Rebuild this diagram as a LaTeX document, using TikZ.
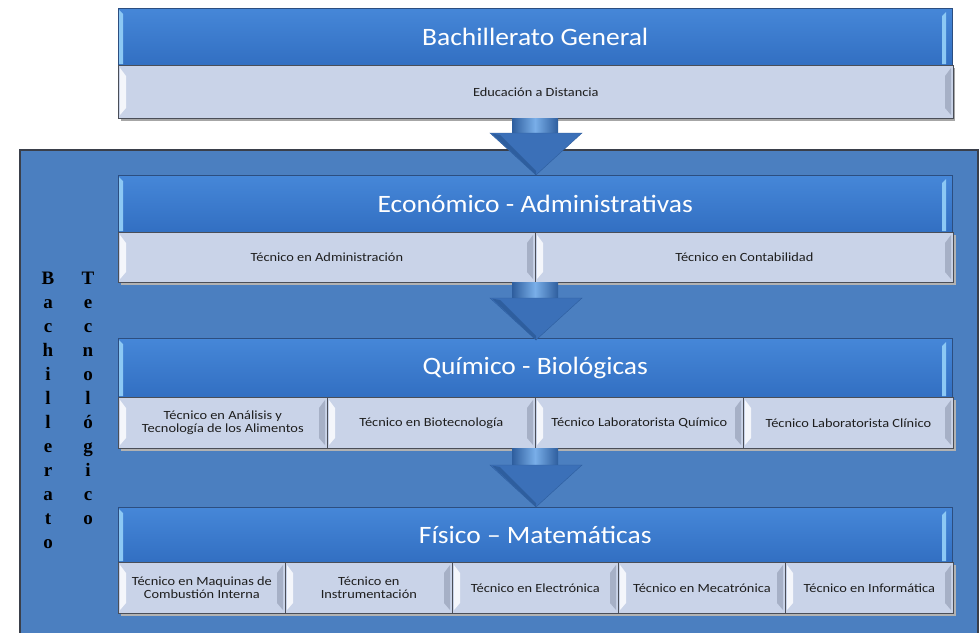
\documentclass[tikz,border=0pt]{standalone}
\usepackage{fontspec}
\setmainfont{Carlito}
\newfontfamily\hdrfont[FakeStretch=1.1]{Carlito}
\newfontfamily\subfont[FakeStretch=1.15]{Carlito}
\newfontfamily\vserif{Liberation Serif}
\definecolor{bgblue}{HTML}{4B7FC0}
\definecolor{bgborder}{HTML}{3A3F4A}
\definecolor{hdrtop}{HTML}{4687D8}
\definecolor{hdrbot}{HTML}{326FC2}
\definecolor{hdrline}{HTML}{2C4E80}
\definecolor{hdrhl}{HTML}{8CC8F4}
\definecolor{subfill}{HTML}{C9D3E8}
\definecolor{subline}{HTML}{4A4E58}
\definecolor{subhl}{HTML}{F4F6FB}
\definecolor{subdk}{HTML}{A6B0C6}
\definecolor{arrowcol}{HTML}{3B70B8}
\definecolor{arrowdk}{HTML}{2E5E9E}
\definecolor{arrowlt}{HTML}{79AEE8}
\definecolor{txtdark}{HTML}{1E1E1E}
\tikzset{
  hdr/.style={draw=hdrline, line width=0.5pt, top color=hdrtop, bottom color=hdrbot,
    inner sep=0pt, anchor=north west, text=white,
    font=\hdrfont\fontsize{25}{28}\selectfont},
  sub/.style={draw=subline, line width=0.7pt, fill=subfill, inner sep=0pt,
    anchor=north west, text=txtdark, align=center,
    font=\subfont\fontsize{12.5}{13.5}\selectfont},
  vl/.style={anchor=base, inner sep=0pt, text=black,
    font=\vserif\bfseries\fontsize{19}{20}\selectfont},
  hlstrip/.style={fill=hdrhl},
  subhlstrip/.style={fill=subhl},
  subdkstrip/.style={fill=subdk},
}
% header box: name, x, y, w, h, text
\newcommand\mkhdr[6]{%
  \node[hdr, minimum width=#4pt, minimum height=#5pt] (#1) at (#2,#3) {#6};
  \fill[hlstrip] ({#2+1},{#3+2}) -- ({#2+5},{#3+6}) -- ({#2+5},{#3+#5-1}) -- ({#2+1},{#3+#5-1}) -- cycle;
  \fill[hlstrip] ({#2+#4-10},{#3+8}) -- ({#2+#4-6},{#3+4}) -- ({#2+#4-6},{#3+#5-1}) -- ({#2+#4-10},{#3+#5-1}) -- cycle;
}
% sub box: name, x, y, w, h, text
\newcommand\mksub[6]{%
  \node[sub, minimum width=#4pt, minimum height=#5pt] (#1) at (#2,#3) {#6};
  \fill[subhlstrip] ({#2+2},{#3+3}) -- ({#2+8},{#3+11}) -- ({#2+8},{#3+#5-10}) -- ({#2+2},{#3+#5-3}) -- cycle;
  \fill[subdkstrip] ({#2+#4-2},{#3+3}) -- ({#2+#4-8},{#3+11}) -- ({#2+#4-8},{#3+#5-10}) -- ({#2+#4-2},{#3+#5-3}) -- cycle;
}
% arrow: shaft top y, head top y, tip y
\newcommand\mkarrow[3]{%
  \shade[left color=arrowdk, right color=arrowdk, middle color=arrowlt] (512,#1) rectangle (558,{#2+1});
  \fill[arrowcol, draw=arrowdk, line width=0.4pt] (490,#2) -- (582,#2) -- (536,#3) -- cycle;
  \fill[arrowdk] (500,{#2+2}) -- (536,{#3-4}) -- (536,#3) -- (492,{#2+0.5}) -- cycle;
}
\begin{document}
\begin{tikzpicture}[x=1pt,y=-1pt]
\useasboundingbox (0,0) rectangle (979,632);
\fill[white] (0,0) rectangle (979,632);
% background panel
\draw[fill=bgblue, draw=bgborder, line width=1.2pt] (20,150) rectangle (978,640);
% top group shadow
\fill[black!35] (121,68) rectangle (955,121);
\mkhdr{bg}{118}{8}{834}{57}{Bachillerato General}
\mksub{ed}{118}{65}{835}{53}{Educación a Distancia}
% Economico
\fill[black!30] (121,235) rectangle (956,285);
\mkhdr{eco}{118}{175}{834}{57}{Económico - Administrativas}
\mksub{ea}{118}{232}{417}{50}{Técnico en Administración}
\mksub{ec}{535}{232}{418}{50}{Técnico en Contabilidad}
% Quimico
\fill[black!30] (121,400) rectangle (956,451);
\mkhdr{qui}{118}{338}{834}{59}{Químico - Biológicas}
\mksub{qa}{118}{397}{209}{51}{Técnico en Análisis y\\Tecnología de los Alimentos}
\mksub{qb}{327}{397}{208}{51}{Técnico en Biotecnología}
\mksub{qc}{535}{397}{208}{51}{Técnico Laboratorista Químico}
\mksub{qd}{743}{397}{210}{51}{Técnico Laboratorista Clínico}
% Fisico
\fill[black!30] (121,565) rectangle (956,616);
\mkhdr{fis}{118}{507}{834}{55}{Físico – Matemáticas}
\mksub{fa}{118}{562}{167}{51}{Técnico en Maquinas de\\Combustión Interna}
\mksub{fb}{285}{562}{167}{51}{Técnico en\\Instrumentación}
\mksub{fc}{452}{562}{166}{51}{Técnico en Electrónica}
\mksub{fd}{618}{562}{167}{51}{Técnico en Mecatrónica}
\mksub{fe}{785}{562}{168}{51}{Técnico en Informática}
% arrows
\mkarrow{118}{133}{175}
\mkarrow{282}{298}{340}
\mkarrow{448}{465}{507}
% vertical labels
\foreach \l [count=\i] in {B,a,c,h,i,l,l,e,r,a,t,o}
  \node[vl] (bv\i) at (48,{284+24*(\i-1)}) {\l};
\foreach \l [count=\i] in {T,e,c,n,o,l,ó,g,i,c,o}
  \node[vl] (tv\i) at (88,{284+24*(\i-1)}) {\l};
\end{tikzpicture}
\end{document}
